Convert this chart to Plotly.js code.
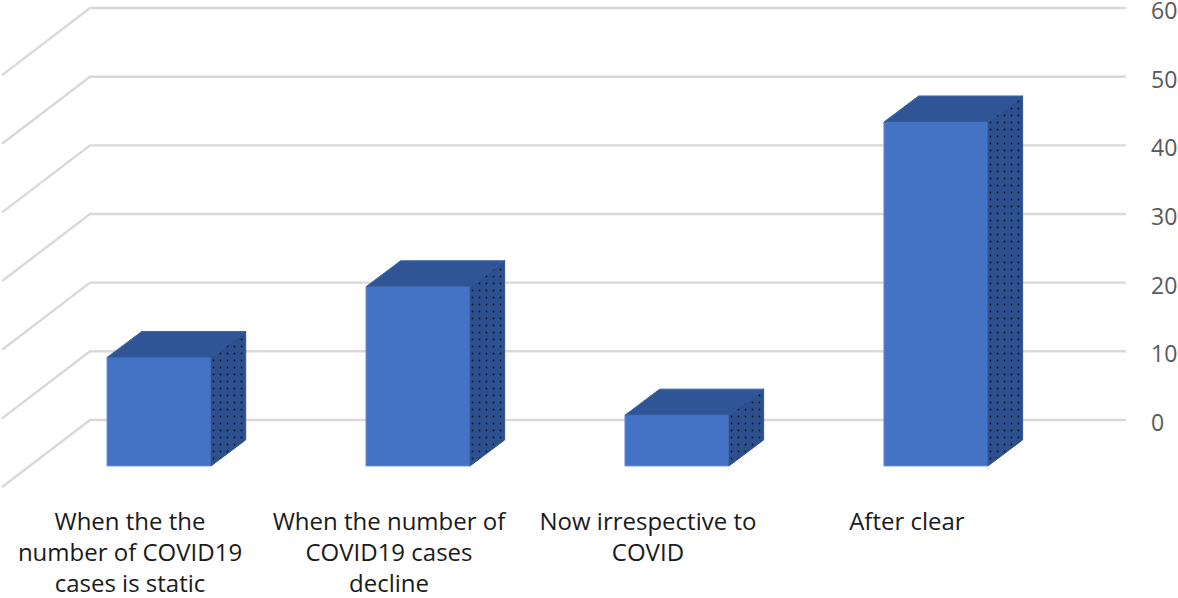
<!DOCTYPE html>
<html>
<head>
<meta charset="utf-8">
<script src="https://cdn.plot.ly/plotly-3.0.1.min.js"></script>
<style>html,body{margin:0;padding:0;background:#fff;overflow:hidden}#chart{width:1178px;height:598px}</style>
</head>
<body>
<div id="chart"></div>
<script>
const categories = [
  "When the the<br>number of COVID19<br>cases is static",
  "When the number of<br>COVID19 cases<br>decline",
  "Now irrespective to<br>COVID",
  "After clear"
];
const values = [15.8, 26.1, 7.4, 50.1];
const axisTicks = [0, 10, 20, 30, 40, 50, 60];

const positions = categories.map((c, i) => i);
const barWidth = 0.4015;
const frontBase = -6.7;      // floor of the front plane, in axis units
const depthX = 0.134;        // oblique depth of the 3-D view
const depthY = 3.79;
const wallCornerX = -0.2664; // where the back wall meets the side wall
const wallEndX = -0.606;
const wallDropY = -9.77;
const backEndX = 3.734;
const labelShift = -0.112;
const xRange = [-0.614, 3.734];
const yRange = [-11.66, 61.17];
const labelNudge = 0.45;     // tick labels sit slightly below their gridlines
const yLabelRange = [yRange[0] + labelNudge, yRange[1] + labelNudge];

const sideX = [], sideY = [], topX = [], topY = [];
values.forEach((v, i) => {
  const r = positions[i] + barWidth / 2, l = positions[i] - barWidth / 2, t = frontBase + v;
  sideX.push(r, r + depthX, r + depthX, r, r, null);
  sideY.push(frontBase, frontBase + depthY, t + depthY, t, frontBase, null);
  topX.push(l, r, r + depthX, l + depthX, l, null);
  topY.push(t, t, t + depthY, t + depthY, t, null);
});

const gridX = [], gridY = [];
axisTicks.forEach(t => {
  gridX.push(wallEndX, wallCornerX, backEndX, null);
  gridY.push(t + wallDropY, t, t, null);
});

const traces = [
  {type: 'scatter', mode: 'lines', x: [], y: [], xaxis: 'x', yaxis: 'y', hoverinfo: 'skip', showlegend: false},
  {type: 'scatter', mode: 'lines', x: gridX, y: gridY, xaxis: 'x2', yaxis: 'y2',
   line: {color: '#d9d9d9', width: 2.4}, hoverinfo: 'skip', showlegend: false},
  {type: 'bar', x: positions, y: values, base: frontBase, width: barWidth, xaxis: 'x3', yaxis: 'y3',
   marker: {color: '#4472c4', line: {color: '#6a8fd3', width: 1}}, showlegend: false},
  {type: 'scatter', mode: 'lines', x: topX, y: topY, xaxis: 'x3', yaxis: 'y3', fill: 'toself', fillcolor: '#2f5597',
   line: {color: '#3f66a8', width: 1}, hoverinfo: 'skip', showlegend: false},
  {type: 'scatter', mode: 'lines', x: sideX, y: sideY, xaxis: 'x3', yaxis: 'y3', fill: 'toself', fillcolor: '#2d4f8e',
   fillpattern: {shape: '.', bgcolor: '#2d4f8e', fgcolor: '#0b1426', size: 7, solidity: 0.05},
   line: {color: '#2f5597', width: 1}, hoverinfo: 'skip', showlegend: false}
];

const layout = {
  width: 1178, height: 598,
  margin: {l: 0, r: 52, t: 0, b: 98},
  paper_bgcolor: '#ffffff', plot_bgcolor: '#ffffff',
  showlegend: false,
  bargap: 0,
  font: {family: '"Open Sans", sans-serif'},
  xaxis: {
    range: xRange, showgrid: false, zeroline: false, showline: false,
    tickmode: 'array', tickvals: positions.map(p => p + labelShift), ticktext: categories,
    ticks: '', tickangle: 0, ticklabelstandoff: 5, automargin: false, ticklabeloverflow: 'allow',
    tickfont: {family: '"Open Sans", sans-serif', size: 24, color: '#1a1a1a'}
  },
  yaxis: {
    range: yLabelRange, side: 'right', showline: false, zeroline: false, showgrid: false,
    tickmode: 'array', tickvals: axisTicks, ticks: '', ticklabelstandoff: 24, automargin: false, ticklabeloverflow: 'allow',
    tickfont: {family: '"Open Sans", sans-serif', size: 23, color: '#595959'}
  },
  xaxis2: {range: xRange, overlaying: 'x', visible: false},
  yaxis2: {range: yRange, overlaying: 'y', visible: false},
  xaxis3: {range: xRange, overlaying: 'x', visible: false},
  yaxis3: {range: yRange, overlaying: 'y', visible: false}
};

Plotly.newPlot('chart', traces, layout, {displayModeBar: false, staticPlot: true});
</script>
</body>
</html>
